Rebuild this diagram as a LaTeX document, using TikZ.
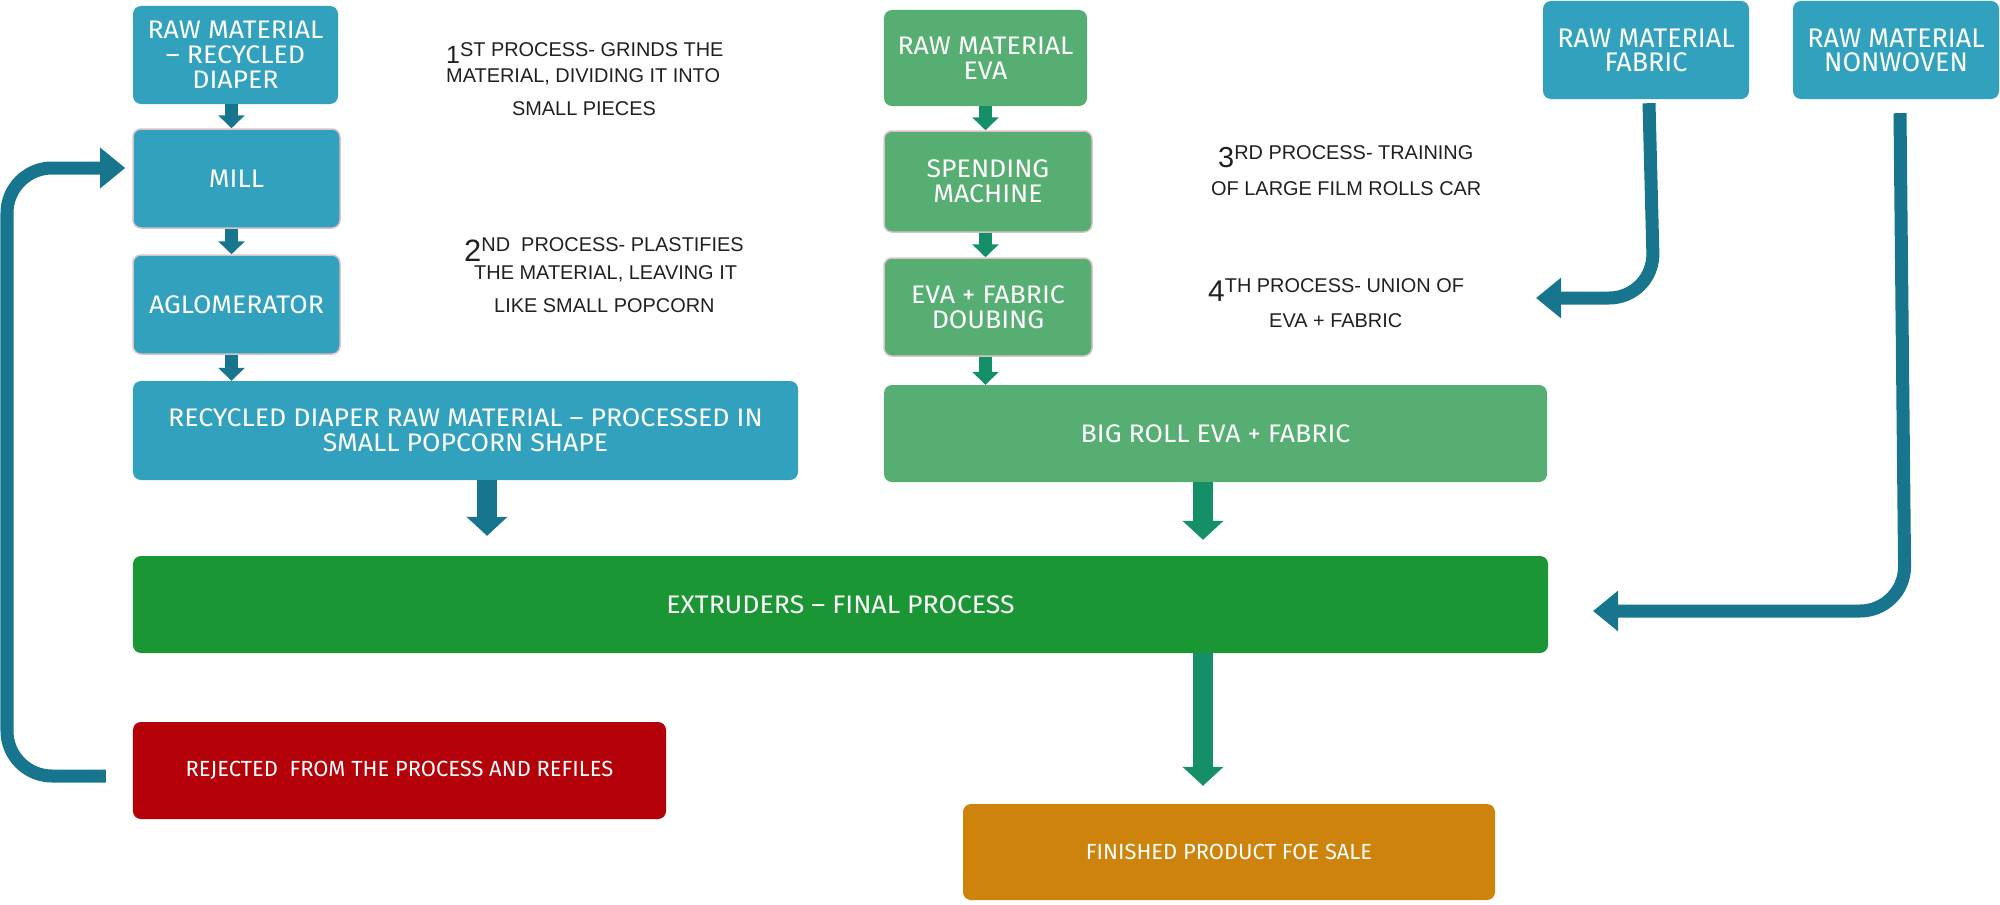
\documentclass[tikz,border=0pt]{standalone}
\usepackage{fontspec}
\setmainfont{Liberation Sans}
\newfontfamily\boxfont{Fira Sans}[FakeStretch=1.05]
\newfontfamily\plainboxfont{Fira Sans}
\usetikzlibrary{arrows.meta}
\definecolor{tealbox}{HTML}{31A1BE}
\definecolor{tealarrow}{HTML}{17758D}
\definecolor{greenbox}{HTML}{56AE72}
\definecolor{greenarrow}{HTML}{148F68}
\definecolor{extgreen}{HTML}{1A9634}
\definecolor{rejred}{HTML}{B40008}
\definecolor{finorange}{HTML}{CE840C}
\definecolor{anntext}{HTML}{231F20}
\definecolor{boxedge}{HTML}{D9C3C6}
\begin{document}
\begin{tikzpicture}[x=1bp,y=-1bp,
  box/.style={rounded corners=8bp, inner sep=0pt, text=white, align=center,
    font=\boxfont\fontsize{25.5}{25}\selectfont},
  smallbox/.style={box, font=\plainboxfont\fontsize{22}{23}\selectfont},
  widebox/.style={box, font=\plainboxfont\fontsize{27}{24}\selectfont},
  edged/.style={draw=boxedge, line width=1.5bp},
  ann/.style={inner sep=0pt, text=anntext, font=\fontsize{20}{22}\selectfont},
  arrsm/.style={line width=13bp, -{Triangle[width=26bp,length=13bp]}},
  arrbig/.style={line width=20bp, -{Triangle[width=40bp,length=19bp]}},
  arrcurve/.style={line width=13bp, rounded corners=45bp, tealarrow,
    -{Triangle[width=39bp,length=25bp]}}
]
\useasboundingbox (0,0) rectangle (2000,905);

% left column
\node[box, fill=tealbox, minimum width=205bp, minimum height=98bp] (rmd) at (235.5,55) {RAW MATERIAL\\– RECYCLED\\DIAPER};
\node[box, edged, fill=tealbox, minimum width=207bp, minimum height=99bp] (mill) at (236.5,178.5) {MILL};
\node[box, edged, fill=tealbox, minimum width=207bp, minimum height=99bp] (aglo) at (236.5,304.5) {AGLOMERATOR};
\node[box, fill=tealbox, minimum width=665bp, minimum height=99bp] (rdrm) at (465.5,430.5) {RECYCLED DIAPER RAW MATERIAL – PROCESSED IN\\SMALL POPCORN SHAPE};

% green column
\node[box, fill=greenbox, minimum width=203bp, minimum height=96bp] (rme) at (985.5,58) {RAW MATERIAL\\EVA};
\node[box, edged, fill=greenbox, minimum width=208bp, minimum height=101bp] (spend) at (988,181.5) {SPENDING\\MACHINE};
\node[box, edged, fill=greenbox, minimum width=208bp, minimum height=98bp] (evafab) at (988,307) {EVA + FABRIC\\DOUBING};
\node[box, fill=greenbox, minimum width=663bp, minimum height=97bp] (bigroll) at (1215.5,433.5) {BIG ROLL EVA + FABRIC};

% top right
\node[widebox, fill=tealbox, minimum width=206bp, minimum height=98bp] (rmf) at (1646,50) {RAW MATERIAL\\FABRIC};
\node[widebox, fill=tealbox, minimum width=206bp, minimum height=98bp] (rmn) at (1896,50) {RAW MATERIAL\\NONWOVEN};

% bottom
\node[box, fill=extgreen, minimum width=1415bp, minimum height=97bp] (extr) at (840.5,604.5) {EXTRUDERS – FINAL PROCESS};
\node[smallbox, fill=rejred, minimum width=533bp, minimum height=97bp] (rej) at (399.5,770.5) {REJECTED \ FROM THE PROCESS AND REFILES};
\node[smallbox, fill=finorange, minimum width=532bp, minimum height=96bp] (fin) at (1229,852) {FINISHED PRODUCT FOE SALE};

% annotations
\node[ann, anchor=base west] (a1a) at (446,63) {{\fontsize{25}{25}\selectfont 1}\raisebox{7bp}{ST PROCESS- GRINDS THE}};
\node[ann, anchor=base west] (a1b) at (446,82) {MATERIAL, DIVIDING IT INTO};
\node[ann, anchor=base] (a1c) at (584,115) {SMALL PIECES};
\node[ann, anchor=base west] (a2a) at (464,261) {{\fontsize{31}{31}\selectfont 2}\raisebox{10bp}{ND \ PROCESS- PLASTIFIES}};
\node[ann, anchor=base west] (a2b) at (474,279) {THE MATERIAL, LEAVING IT};
\node[ann, anchor=base west] (a2c) at (494,312) {LIKE SMALL POPCORN};
\node[ann, anchor=base west] (a3a) at (1218,167) {{\fontsize{29}{29}\selectfont 3}\raisebox{8bp}{RD PROCESS- TRAINING}};
\node[ann, anchor=base west] (a3b) at (1211,195) {OF LARGE FILM ROLLS CAR};
\node[ann, anchor=base west] (a4a) at (1208,301) {{\fontsize{30}{30}\selectfont 4}\raisebox{9bp}{TH PROCESS- UNION OF}};
\node[ann, anchor=base west] (a4b) at (1269,327) {EVA + FABRIC};

% small arrows
\draw[arrsm, tealarrow] ([xshift=-4bp]rmd.south) -- ([xshift=-4bp]rmd.south |- mill.north);
\draw[arrsm, tealarrow] ([xshift=-5bp]mill.south) -- ([xshift=-5bp]mill.south |- aglo.north);
\draw[arrsm, tealarrow] ([xshift=-5bp]aglo.south) -- ([xshift=-5bp]aglo.south |- rdrm.north);
\draw[arrsm, greenarrow] (rme.south) -- (rme.south |- spend.north);
\draw[arrsm, greenarrow] ([xshift=-2.5bp]spend.south) -- ([xshift=-2.5bp]spend.south |- evafab.north);
\draw[arrsm, greenarrow] ([xshift=-2.5bp]evafab.south) -- ([xshift=-2.5bp]evafab.south |- bigroll.north);

% big arrows
\coordinate (bx) at (1203,0);
\draw[arrbig, tealarrow, shorten >=20bp] ([xshift=21.5bp]rdrm.south) -- ([xshift=21.5bp]rdrm.south |- extr.north);
\draw[arrbig, greenarrow, shorten >=16bp] (bigroll.south -| bx) -- (extr.north -| bx);
\draw[arrbig, greenarrow, shorten >=18bp] (extr.south -| bx) -- (fin.north -| bx);

% curved arrows
\coordinate (fabtip) at (1536,298);
\coordinate (nwtip) at (1593,611);
\draw[arrcurve] ([xshift=3bp,yshift=-4bp]rmf.south) -- (1654,298) -- (fabtip);
\draw[arrcurve] ([xshift=4bp,yshift=-14bp]rmn.south) -- (1905,611) -- (nwtip);
\coordinate (rejout) at ([xshift=-27bp,yshift=-5.5bp]rej.west);
\coordinate (millin) at ([xshift=-7bp,yshift=10.5bp]mill.west);
\draw[arrcurve] (rejout) -- (7,776) -- (7,168) -- (millin);
\end{tikzpicture}
\end{document}
